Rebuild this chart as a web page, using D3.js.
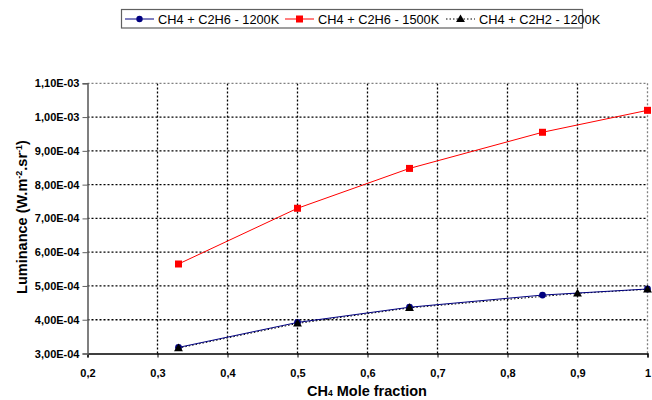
<!DOCTYPE html>
<html lang="en">
<head>
    <meta charset="UTF-8">
    <script src="https://cdn.jsdelivr.net/npm/d3@7"></script>
    <title>Luminance vs CH4 mole fraction</title>
    <style>
        body { margin: 0; background: #fff; }
        svg { display: block; font-family: "Liberation Sans", Arial, sans-serif; }
    </style>
</head>
<body>
    <script>
        const w = 652;
        const h = 400;
        const margin = {top: 83.3, right: 4.5, bottom: 46.5, left: 87.5};

        // data
        const xTicks = [0.2, 0.3, 0.4, 0.5, 0.6, 0.7, 0.8, 0.9, 1];
        const yTicks = [3e-4, 4e-4, 5e-4, 6e-4, 7e-4, 8e-4, 9e-4, 1e-3, 1.1e-3];
        const seriesNames = ["CH4 + C2H6 - 1200K", "CH4 + C2H6 - 1500K", "CH4 + C2H2 - 1200K"];
        const xC2H6 = [0.33, 0.5, 0.66, 0.85, 1];
        const lum1200 = [3.18e-4, 3.92e-4, 4.37e-4, 4.73e-4, 4.91e-4];
        const lum1500 = [5.65e-4, 7.30e-4, 8.48e-4, 9.55e-4, 1.02e-3];
        const xC2H2 = [0.33, 0.5, 0.66, 0.9, 1];
        const lumC2H2 = [3.16e-4, 3.89e-4, 4.35e-4, 4.78e-4, 4.90e-4];

        const svg = d3.select("body")
                        .append("svg")
                        .attr("width", w)
                        .attr("height", h);

        const xScale = d3.scaleLinear()
                            .domain([0.2, 1])
                            .range([margin.left, w - margin.right]);

        const yScale = d3.scaleLinear()
                            .domain([3e-4, 1.1e-3])
                            .range([h - margin.bottom, margin.top]);

        // 1,10E-03 style labels
        const sciFormat = (d) => {
            const e = Math.floor(Math.log10(d) + 1e-9);
            const m = d / Math.pow(10, e);
            const sign = e < 0 ? "-" : "+";
            return m.toFixed(2).replace(".", ",") + "E" + sign + String(Math.abs(e)).padStart(2, "0");
        };
        const decFormat = (d) => String(+d.toFixed(1)).replace(".", ",");

        //gridlines
        svg.append("g")
            .selectAll("line")
            .data(yTicks.slice(1, -1))
            .enter()
            .append("line")
            .attr("x1", margin.left)
            .attr("x2", w - margin.right)
            .attr("y1", d => yScale(d))
            .attr("y2", d => yScale(d))
            .attr("stroke", "#000")
            .attr("stroke-width", 1.3)
            .attr("stroke-dasharray", "2,2");

        svg.append("g")
            .selectAll("line")
            .data(xTicks.slice(1, -1))
            .enter()
            .append("line")
            .attr("x1", d => xScale(d))
            .attr("x2", d => xScale(d))
            .attr("y1", yScale(3e-4))
            .attr("y2", yScale(1.1e-3))
            .attr("stroke", "#000")
            .attr("stroke-width", 1.3)
            .attr("stroke-dasharray", "2,2");

        // plot border top & right (grey dotted)
        svg.append("path")
            .attr("d", `M${xScale(0.2)},${yScale(1.1e-3)}H${xScale(1)}V${yScale(3e-4)}`)
            .attr("fill", "none")
            .attr("stroke", "#808080")
            .attr("stroke-width", 1.3)
            .attr("stroke-dasharray", "2,2");

        //axes
        const xAxis = d3.axisBottom(xScale)
                        .tickValues(xTicks)
                        .tickSize(4)
                        .tickFormat(decFormat);

        const gx = svg.append("g")
            .attr("transform", "translate(0," + yScale(3e-4) + ")")
            .call(xAxis);
        gx.select(".domain").attr("stroke", "#000").attr("stroke-width", 1.3);
        gx.selectAll(".tick text")
            .attr("dy", 0)
            .attr("y", 23)
            .style("font-size", "11px")
            .style("font-weight", "bold")
            .attr("font-family", null);

        const yAxis = d3.axisLeft(yScale)
                        .tickValues(yTicks)
                        .tickSize(5)
                        .tickFormat(sciFormat);

        const gy = svg.append("g")
            .attr("transform", "translate(" + margin.left + ",0)")
            .call(yAxis);
        gy.select(".domain").attr("stroke", "#606060").attr("stroke-width", 1.6);
        gy.selectAll(".tick line").attr("stroke", "#606060");
        gy.selectAll(".tick text")
            .attr("x", -8)
            .style("font-size", "11px")
            .style("font-weight", "bold")
            .attr("font-family", null);
        svg.selectAll(".tick text").attr("fill", "#000");

        //axis titles
        const xt = svg.append("text")
            .attr("x", 367)
            .attr("y", 396)
            .attr("text-anchor", "middle")
            .style("font-size", "14.5px")
            .style("font-weight", "bold");
        xt.append("tspan").text("CH");
        xt.append("tspan").style("font-size", "8.5px").text("4");
        xt.append("tspan").text(" Mole fraction");

        const yt = svg.append("text")
            .attr("transform", "translate(27,217) rotate(-90)")
            .attr("text-anchor", "middle")
            .style("font-size", "14.5px")
            .style("font-weight", "bold");
        yt.append("tspan").text("Luminance (W.m");
        yt.append("tspan").attr("dy", -5).style("font-size", "9px").text("-2");
        yt.append("tspan").attr("dy", 5).text(".sr");
        yt.append("tspan").attr("dy", -5).style("font-size", "9px").text("-1");
        yt.append("tspan").attr("dy", 5).text(")");

        //series
        const line = d3.line()
                        .x(d => xScale(d[0]))
                        .y(d => yScale(d[1]));

        const s1200 = xC2H6.map((x, i) => [x, lum1200[i]]);
        const s1500 = xC2H6.map((x, i) => [x, lum1500[i]]);
        const sC2H2 = xC2H2.map((x, i) => [x, lumC2H2[i]]);

        const triangle = d3.symbol().type(d3.symbolTriangle).size(34);

        svg.append("path")
            .datum(sC2H2)
            .attr("d", line)
            .attr("fill", "none")
            .attr("stroke", "#000")
            .attr("stroke-width", 1)
            .attr("stroke-dasharray", "1.5,2");

        svg.append("path")
            .datum(s1200)
            .attr("d", line)
            .attr("fill", "none")
            .attr("stroke", "#000080")
            .attr("stroke-width", 1);

        svg.append("path")
            .datum(s1500)
            .attr("d", line)
            .attr("fill", "none")
            .attr("stroke", "#ff0000")
            .attr("stroke-width", 1);

        svg.append("g")
            .selectAll("circle")
            .data(s1200)
            .enter()
            .append("circle")
            .attr("cx", d => xScale(d[0]))
            .attr("cy", d => yScale(d[1]))
            .attr("r", 3.4)
            .attr("fill", "#000080");

        svg.append("g")
            .selectAll("path")
            .data(sC2H2)
            .enter()
            .append("path")
            .attr("d", triangle)
            .attr("transform", d => "translate(" + xScale(d[0]) + "," + (yScale(d[1]) + 0.5) + ")")
            .attr("fill", "#000");

        svg.append("g")
            .selectAll("rect")
            .data(s1500)
            .enter()
            .append("rect")
            .attr("x", d => xScale(d[0]) - 3.5)
            .attr("y", d => yScale(d[1]) - 3.5)
            .attr("width", 7)
            .attr("height", 7)
            .attr("fill", "#ff0000");

        //legend
        const legend = svg.append("g");
        legend.append("rect")
            .attr("x", 121.5)
            .attr("y", 9.5)
            .attr("width", 461)
            .attr("height", 18.5)
            .attr("fill", "#fff")
            .attr("stroke", "#606060")
            .attr("stroke-width", 1.2);

        const legendX = [125, 285, 446];
        const legendColors = ["#000080", "#ff0000", "#000"];
        const ly = 19;
        seriesNames.forEach((name, i) => {
            const x0 = legendX[i];
            legend.append("line")
                .attr("x1", x0)
                .attr("x2", x0 + 29)
                .attr("y1", ly)
                .attr("y2", ly)
                .attr("stroke", legendColors[i])
                .attr("stroke-width", 1)
                .attr("stroke-dasharray", i === 2 ? "1.5,2" : null);
            const mx = x0 + 14.5;
            if (i === 0) {
                legend.append("circle").attr("cx", mx).attr("cy", ly).attr("r", 3.2).attr("fill", legendColors[i]);
            } else if (i === 1) {
                legend.append("rect").attr("x", mx - 3.5).attr("y", ly - 3.5).attr("width", 7).attr("height", 7).attr("fill", legendColors[i]);
            } else {
                legend.append("path").attr("d", triangle).attr("transform", "translate(" + mx + "," + (ly + 0.5) + ")").attr("fill", "#000");
            }
            legend.append("text")
                .attr("x", x0 + 33)
                .attr("y", ly + 4.5)
                .style("font-size", "12.8px")
                .text(name);
        });
    </script>
</body>
</html>
